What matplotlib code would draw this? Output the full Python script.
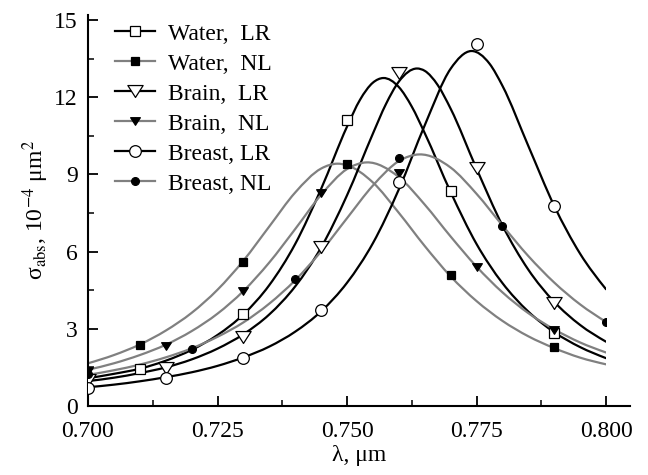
import numpy as np
import matplotlib
matplotlib.use('Agg')
import matplotlib.pyplot as plt
from matplotlib.path import Path
from matplotlib.patches import PathPatch, Rectangle
from matplotlib.lines import Line2D
from matplotlib.ticker import MultipleLocator, FormatStrFormatter
import matplotlib.transforms as mtransforms

plt.rcParams['font.family'] = ['Liberation Serif', 'DejaVu Serif']
plt.rcParams['mathtext.fontset'] = 'stix'

# ---------------- data ----------------
labels = ["Water,  LR", "Water,  NL", "Brain,  LR", "Brain,  NL", "Breast, LR", "Breast, NL"]

# smooth fitted curves
water_lr_x = [0.700, 0.705, 0.710, 0.715, 0.720, 0.725, 0.730, 0.735, 0.740, 0.745, 0.750,
              0.7525, 0.755, 0.757, 0.760, 0.7625, 0.765, 0.770, 0.775, 0.780, 0.785, 0.790, 0.795, 0.800]
water_lr_y = [1.08, 1.25, 1.45, 1.76, 2.18, 2.76, 3.56, 4.70, 6.30, 8.44, 10.86,
              11.90, 12.57, 12.75, 12.40, 11.64, 10.61, 8.32, 6.30, 4.78, 3.67, 2.87, 2.29, 1.86]

water_nl_x = [0.700, 0.705, 0.710, 0.715, 0.720, 0.725, 0.730, 0.735, 0.740, 0.745,
              0.7482, 0.750, 0.755, 0.760, 0.765, 0.770, 0.775, 0.780, 0.785, 0.790, 0.795, 0.800]
water_nl_y = [1.66, 1.98, 2.39, 2.93, 3.62, 4.52, 5.65, 6.98, 8.30, 9.23,
              9.42, 9.36, 8.69, 7.51, 6.22, 5.04, 4.08, 3.31, 2.71, 2.25, 1.88, 1.62]

brain_lr_x = [0.700, 0.705, 0.710, 0.715, 0.720, 0.725, 0.730, 0.735, 0.740, 0.745, 0.750, 0.755,
              0.7575, 0.760, 0.7635, 0.765, 0.7675, 0.770, 0.775, 0.780, 0.785, 0.790, 0.795, 0.800]
brain_lr_y = [0.97, 1.10, 1.28, 1.50, 1.81, 2.23, 2.79, 3.56, 4.65, 6.16, 8.19, 10.59,
              11.73, 12.61, 13.12, 13.03, 12.48, 11.56, 9.23, 7.02, 5.30, 4.05, 3.15, 2.50]

brain_nl_x = [0.700, 0.705, 0.710, 0.715, 0.720, 0.725, 0.730, 0.735, 0.740, 0.745, 0.750,
              0.7538, 0.760, 0.765, 0.770, 0.775, 0.780, 0.785, 0.790, 0.795, 0.800]
brain_nl_y = [1.41, 1.66, 1.98, 2.38, 2.91, 3.59, 4.47, 5.58, 6.88, 8.21, 9.21,
              9.47, 8.90, 7.83, 6.59, 5.42, 4.42, 3.61, 2.98, 2.47, 2.08]

breast_lr_x = [0.700, 0.705, 0.710, 0.715, 0.720, 0.725, 0.730, 0.735, 0.740, 0.745, 0.750,
               0.755, 0.760, 0.765, 0.770, 0.774, 0.7775, 0.780, 0.785, 0.790, 0.795, 0.800]
breast_lr_y = [0.73, 0.83, 0.96, 1.12, 1.31, 1.56, 1.89, 2.31, 2.89, 3.68, 4.79,
               6.33, 8.42, 10.91, 13.11, 13.80, 13.31, 12.45, 10.11, 7.78, 5.92, 4.54]

breast_nl_x = [0.700, 0.705, 0.710, 0.715, 0.720, 0.725, 0.730, 0.735, 0.740, 0.745, 0.750,
               0.755, 0.760, 0.764, 0.770, 0.775, 0.780, 0.785, 0.790, 0.795, 0.800]
breast_nl_y = [1.21, 1.39, 1.61, 1.89, 2.24, 2.69, 3.25, 3.98, 4.89, 6.01, 7.30,
               8.57, 9.52, 9.78, 9.27, 8.25, 7.02, 5.83, 4.80, 3.95, 3.27]

# computed points (markers)
water_mx = [0.710, 0.730, 0.750, 0.770, 0.790]
water_lr_my = [1.43, 3.56, 11.10, 8.36, 2.83]
water_nl_my = [2.36, 5.60, 9.39, 5.08, 2.28]
brain_mx = [0.700, 0.715, 0.730, 0.745, 0.760, 0.775, 0.790]
brain_lr_my = [1.01, 1.46, 2.67, 6.17, 12.95, 9.24, 3.99]
brain_nl_my = [1.37, 2.34, 4.48, 8.29, 9.04, 5.41, 2.95]
breast_lr_mx = [0.700, 0.715, 0.730, 0.745, 0.760, 0.775, 0.790]
breast_lr_my = [0.70, 1.09, 1.87, 3.73, 8.69, 14.07, 7.77]
breast_nl_mx = [0.700, 0.720, 0.740, 0.760, 0.780, 0.800]
breast_nl_my = [1.25, 2.20, 4.92, 9.65, 7.00, 3.28]

x_ticks = [0.700, 0.725, 0.750, 0.775, 0.800]
y_ticks = [0, 3, 6, 9, 12, 15]

# ---------------- styling ----------------
FS = 17
BLACK = '#000000'
GRAY = '#808080'
tri = Path([(-1.0, 0.78), (1.0, 0.78), (0.0, -0.78), (-1.0, 0.78)],
           [Path.MOVETO, Path.LINETO, Path.LINETO, Path.CLOSEPOLY])

series = [
    dict(cx=water_lr_x, cy=water_lr_y, mx=water_mx, my=water_lr_my, color=BLACK,
         marker='s', ms=7.5, mfc='white'),
    dict(cx=water_nl_x, cy=water_nl_y, mx=water_mx, my=water_nl_my, color=GRAY,
         marker='s', ms=5.2, mfc='black'),
    dict(cx=brain_lr_x, cy=brain_lr_y, mx=brain_mx, my=brain_lr_my, color=BLACK,
         marker=tri, ms=11, mfc='white'),
    dict(cx=brain_nl_x, cy=brain_nl_y, mx=brain_mx, my=brain_nl_my, color=GRAY,
         marker=tri, ms=7, mfc='black'),
    dict(cx=breast_lr_x, cy=breast_lr_y, mx=breast_lr_mx, my=breast_lr_my, color=BLACK,
         marker='o', ms=8.4, mfc='white'),
    dict(cx=breast_nl_x, cy=breast_nl_y, mx=breast_nl_mx, my=breast_nl_my, color=GRAY,
         marker='o', ms=5.6, mfc='black'),
]


def smooth_path(xs, ys):
    """Cubic Bezier path through the given points (rendering only)."""
    xs = np.asarray(xs, float)
    ys = np.asarray(ys, float)
    h = np.diff(xs)
    s = np.diff(ys) / h
    m = np.empty_like(xs)
    m[1:-1] = (h[:-1] * s[1:] + h[1:] * s[:-1]) / (h[:-1] + h[1:])
    m[0] = 1.5 * s[0] - 0.5 * m[1]
    m[-1] = 1.5 * s[-1] - 0.5 * m[-2]
    verts = [(xs[0], ys[0])]
    codes = [Path.MOVETO]
    for i in range(len(xs) - 1):
        d = h[i] / 3.0
        verts += [(xs[i] + d, ys[i] + m[i] * d),
                  (xs[i + 1] - d, ys[i + 1] - m[i + 1] * d),
                  (xs[i + 1], ys[i + 1])]
        codes += [Path.CURVE4] * 3
    return Path(verts, codes)


fig = plt.figure(figsize=(6.48, 4.75), dpi=100)
W, H = 648.0, 475.0
ax = fig.add_axes([88 / W, 1 - 406 / H, (630 - 88) / W, (406 - 15) / H])
ax.set_xlim(0.700, 0.80463)
ax.set_ylim(0, 15.2)

clip_tr = mtransforms.blended_transform_factory(ax.transData, ax.transAxes)
clip_rect = Rectangle((0.700, -0.2), 0.100, 1.4, transform=clip_tr)

for sr in series:
    patch = PathPatch(smooth_path(sr['cx'], sr['cy']), facecolor='none',
                      edgecolor=sr['color'], lw=1.6, zorder=2, capstyle='round')
    ax.add_patch(patch)
    patch.set_clip_path(clip_rect)

for sr in series:
    ln, = ax.plot(sr['mx'], sr['my'], ls='none', marker=sr['marker'], ms=sr['ms'],
                  mfc=sr['mfc'], mec='black', mew=0.9, zorder=5)
    ln.set_clip_path(clip_rect)

for side in ['top', 'right']:
    ax.spines[side].set_visible(False)
for side in ['left', 'bottom']:
    ax.spines[side].set_linewidth(1.5)

ax.set_xticks(x_ticks)
ax.xaxis.set_major_formatter(FormatStrFormatter('%.3f'))
ax.xaxis.set_minor_locator(MultipleLocator(0.0125))
ax.set_yticks(y_ticks)
ax.yaxis.set_minor_locator(MultipleLocator(1.5))
ax.tick_params(which='major', direction='in', length=7, width=1.3, labelsize=FS, pad=7.5)
ax.tick_params(which='minor', direction='in', length=4, width=1.1)
ax.tick_params(axis='x', which='major', pad=11)

ax.set_xlabel('λ, μm', fontsize=FS, labelpad=2)
ax.set_ylabel('σ$_{\\rm abs}$, 10$^{-4}$ μm$^2$', fontsize=FS, labelpad=2)

handles = [Line2D([], [], color=sr['color'], lw=1.6, marker=sr['marker'], ms=sr['ms'],
                  mfc=sr['mfc'], mec='black', mew=0.9) for sr in series]
ax.legend(handles, labels, loc='upper left', bbox_to_anchor=(115 / W, 1 - 23 / H),
          bbox_transform=fig.transFigure, frameon=False, fontsize=FS,
          handlelength=1.7, handletextpad=0.55, labelspacing=0.36,
          borderpad=0, borderaxespad=0, numpoints=1)

fig.savefig('out.png', dpi=100)
